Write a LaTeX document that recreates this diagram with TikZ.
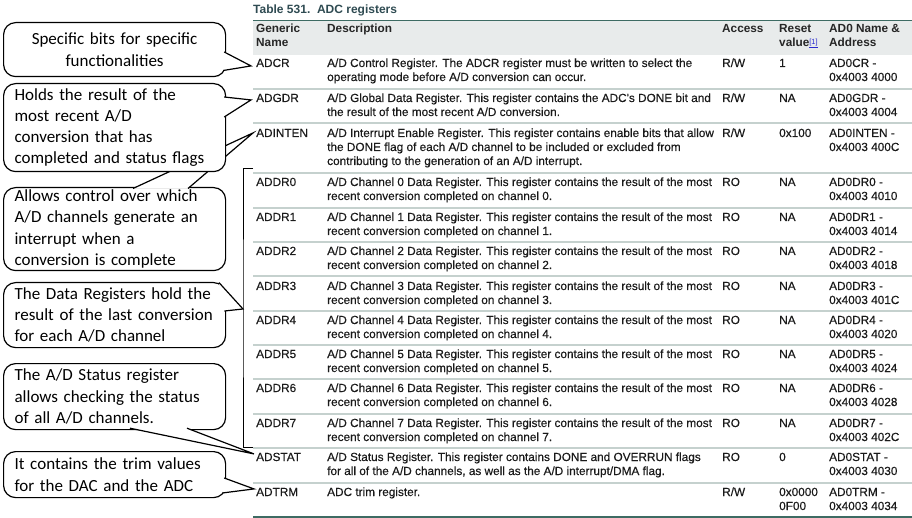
\documentclass[tikz,border=0pt]{standalone}
\usepackage{fontspec}
\setmainfont{Liberation Sans}
\newfontfamily\tabfam[FakeBold=0.35]{Liberation Sans}
\newfontfamily\calfont{Carlito}
\usetikzlibrary{calc}
\definecolor{hdrbg}{HTML}{E8EBEB}
\definecolor{seprule}{HTML}{C5D1CE}
\definecolor{darkrule}{HTML}{3D6B63}
\definecolor{titlecol}{HTML}{2F4B52}
\definecolor{linkblue}{HTML}{2A2ACF}
\definecolor{bodytext}{HTML}{1A1A1A}
\newcommand{\cellbox}[1]{\begin{tabular}[t]{@{}l@{}}#1\end{tabular}}
\newcommand{\tabfont}{\tabfam\fontsize{11.8}{14}\selectfont}
\newcommand{\hdrfont}{\fontsize{11.8}{14}\selectfont\bfseries}
\newcommand{\calltail}[3]{\fill[white] #1 -- #2 -- #3 -- cycle; \draw[tailline] #1 -- #2 -- #3;}
\begin{document}
\begin{tikzpicture}[x=1pt,y=-1pt,
  cell/.style={inner sep=0pt, anchor=base west, font=\tabfont, text=bodytext},
  hcell/.style={inner sep=0pt, anchor=base west, font=\hdrfont, text=black!85},
  callout/.style={draw=black, fill=white, line width=1.2pt, rounded corners=12pt,
    inner xsep=11pt, inner ysep=0pt, font=\calfont\fontsize{17}{21.3}\selectfont,
    anchor=north west, align=left, text width=200pt},
  tailline/.style={draw=black, line width=1.2pt, line join=miter},
  seprow/.style={draw=seprule, line width=2pt},
  darkrow/.style={draw=darkrule, line width=1.6pt},
]
\useasboundingbox (0,0) rectangle (912,518);

% ---------- table ----------
\node[inner sep=0pt, anchor=base west, font=\fontsize{12}{14}\selectfont\bfseries, text=titlecol]
  (title) at (253,14) {Table 531.\ \ ADC registers};
\fill[hdrbg] (253,21) rectangle (912,55);
\draw[darkrow] (253,20.5) -- (912,20.5);

\node[hcell] (hname) at (256,33) {\cellbox{Generic\\Name}};
\node[hcell] (hdesc) at (327,33) {Description};
\node[hcell] (hacc)  at (722,33) {Access};
\node[hcell] (hres)  at (779,33) {\cellbox{Reset\\value\textcolor{linkblue}{\raisebox{2.5pt}{\fontsize{7.5}{8}\selectfont\mdseries\underline{[1]}}}}};
\node[hcell] (haddr) at (829,33) {\cellbox{AD0 Name \&\\Address}};

% rows
\node[cell] (adcr) at (256,67) {ADCR};
\node[cell] (dadcr) at (327,67) {\cellbox{A/D Control Register. The ADCR register must be written to select the\\operating mode before A/D conversion can occur.}};
\node[cell] (aadcr) at (722,67) {R/W};
\node[cell] (radcr) at (779,67) {1};
\node[cell] (xadcr) at (829,67) {\cellbox{AD0CR -\\0x4003 4000}};
\draw[seprow] (253,89) -- (912,89);

\node[cell] (adgdr) at (256,102) {ADGDR};
\node[cell] (dadgdr) at (327,102) {\cellbox{A/D Global Data Register. This register contains the ADC's DONE bit and\\the result of the most recent A/D conversion.}};
\node[cell] (aadgdr) at (722,102) {R/W};
\node[cell] (radgdr) at (779,102) {NA};
\node[cell] (xadgdr) at (829,102) {\cellbox{AD0GDR -\\0x4003 4004}};
\draw[seprow] (253,123.5) -- (912,123.5);

\node[cell] (adinten) at (256,137) {ADINTEN};
\node[cell] (dadinten) at (327,137) {\cellbox{A/D Interrupt Enable Register. This register contains enable bits that allow\\the DONE flag of each A/D channel to be included or excluded from\\contributing to the generation of an A/D interrupt.}};
\node[cell] (aadinten) at (722,137) {R/W};
\node[cell] (radinten) at (779,137) {0x100};
\node[cell] (xadinten) at (829,137) {\cellbox{AD0INTEN -\\0x4003 400C}};
\draw[seprow] (253,173) -- (912,173);

\foreach \i/\y/\ad/\sy in {0/186/4010/208,1/221/4014/242,2/255/4018/276,3/290/401C/311,
                           4/324/4020/345,5/358/4024/379,6/392/4028/414,7/427/402C/448}{
  \node[cell] (addr\i) at (256,\y) {ADDR\i};
  \node[cell] (daddr\i) at (327,\y) {\cellbox{A/D Channel \i\ Data Register. This register contains the result of the most\\recent conversion completed on channel \i.}};
  \node[cell] (aaddr\i) at (722,\y) {RO};
  \node[cell] (raddr\i) at (779,\y) {NA};
  \node[cell] (xaddr\i) at (829,\y) {\cellbox{AD0DR\i\ -\\0x4003 \ad}};
  \draw[seprow] (253,\sy) -- (912,\sy);
}

\node[cell] (adstat) at (256,461) {ADSTAT};
\node[cell] (dadstat) at (327,461) {\cellbox{A/D Status Register. This register contains DONE and OVERRUN flags\\for all of the A/D channels, as well as the A/D interrupt/DMA flag.}};
\node[cell] (aadstat) at (722,461) {RO};
\node[cell] (radstat) at (779,461) {0};
\node[cell] (xadstat) at (829,461) {\cellbox{AD0STAT -\\0x4003 4030}};
\draw[seprow] (253,483) -- (912,483);

\node[cell] (adtrm) at (256,496) {ADTRM};
\node[cell] (dadtrm) at (327,496) {ADC trim register.};
\node[cell] (aadtrm) at (722,496) {R/W};
\node[cell] (radtrm) at (779,496) {\cellbox{0x0000\\0F00}};
\node[cell] (xadtrm) at (829,496) {\cellbox{AD0TRM -\\0x4003 4034}};
\draw[darkrow, line width=2pt] (253,517) -- (912,517);

% ---------- callouts ----------
% c3 first (its tail passes behind c2)
\node[callout, minimum height=83pt] (c3) at (3,187)
  {Allows control over which\\A/D channels generate an\\interrupt when a\\conversion is complete};
\calltail{($(c3.north west)+(130,1.5)$)}{($(adinten.west)+(-3,0)$)}{($(c3.north west)+(185,1.5)$)}

\node[callout, minimum height=88pt] (c2) at (3,83)
  {Holds the result of the\\most recent A/D\\conversion that has\\completed and status flags};
\calltail{($(c2.north east)+(-2,14)$)}{($(adgdr.west)+(-5,2)$)}{($(c2.north east)+(-2,34)$)}

\node[callout, align=center, minimum height=54pt] (c1) at (3,22)
  {Specific bits for specific\\functionalities};
\calltail{($(c1.north east)+(-2,30)$)}{($(adcr.west)+(-5,3)$)}{($(c1.north east)+(-3,48.5)$)}

\node[callout, minimum height=65pt] (c4) at (3,282)
  {The Data Registers hold the\\result of the last conversion\\for each A/D channel};
\coordinate (brk) at (243,309);
\fill[white] (219,280.2) -- (227,280.2) -- (227,310.5) -- (brk) -- (223.6,311) -- (219,283.5) -- cycle;
\draw[tailline] (219,282.6) -- (brk) -- (224.4,311);

\node[callout, minimum height=66pt] (c5) at (3,363)
  {The A/D Status register\\allows checking the status\\of all A/D channels.};
\calltail{($(c5.south west)+(127,-2)$)}{($(adstat.west)+(-2,-3)$)}{($(c5.south west)+(184,-2)$)}

\node[callout, minimum height=46pt] (c6) at (3,451)
  {It contains the trim values\\for the DAC and the ADC};
\calltail{($(c6.north east)+(-2,27)$)}{($(adtrm.west)+(-2,-3)$)}{($(c6.north east)+(-4,42)$)}

% bracket for the data registers
\coordinate (brktop) at (253,168);
\coordinate (brkbot) at (253,447);
\draw[black, line width=0.9pt] (brktop) -- (243,168) -- (brk) -- (243,447) -- (brkbot);
\end{tikzpicture}
\end{document}
